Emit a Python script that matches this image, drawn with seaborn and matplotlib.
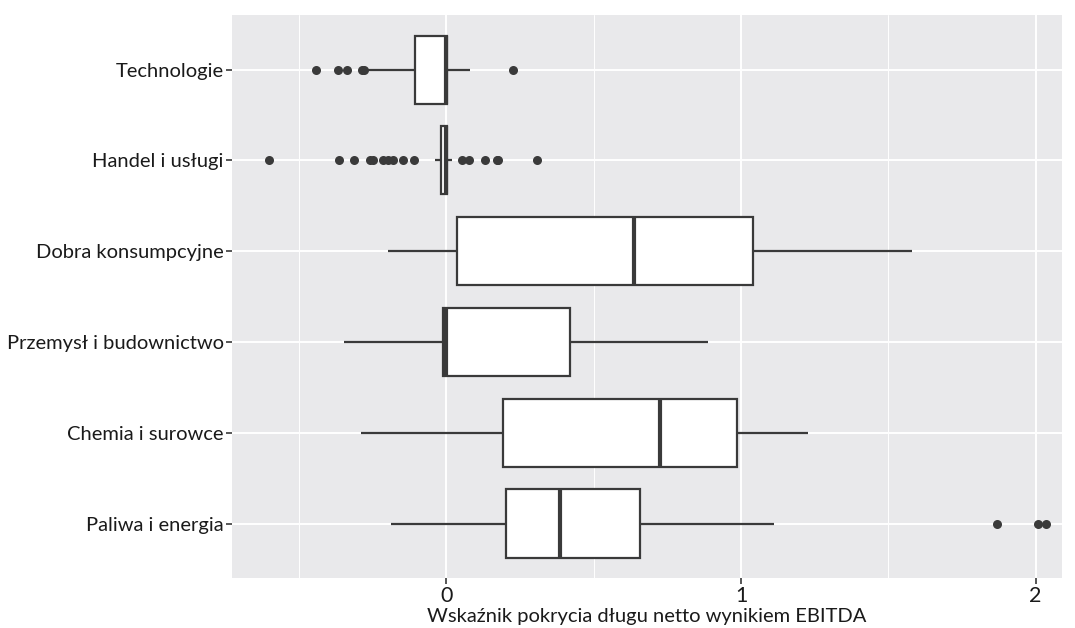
import numpy as np
import pandas as pd
import matplotlib.pyplot as plt
import seaborn as sns

# sectors, top to bottom
sectors = ['Technologie', 'Handel i usługi', 'Dobra konsumpcyjne',
           'Przemysł i budownictwo', 'Chemia i surowce', 'Paliwa i energia']

# box summaries
whisker_lo = [-0.266, -0.039, -0.198, -0.347, -0.290, -0.188]
q1 = [-0.107, -0.019, 0.036, -0.013, 0.193, 0.202]
median = [0.000, 0.000, 0.636, 0.000, 0.725, 0.384]
q3 = [0.003, 0.003, 1.040, 0.420, 0.986, 0.658]
whisker_hi = [0.080, 0.020, 1.582, 0.887, 1.229, 1.113]

# outlying points per sector
outliers = {
    'Technologie': [-0.444, -0.367, -0.337, -0.287, -0.281, 0.225],
    'Handel i usługi': [-0.603, -0.365, -0.313, -0.260, -0.249, -0.215,
                        -0.198, -0.181, -0.147, -0.109,
                        0.054, 0.077, 0.131, 0.170, 0.176, 0.307],
    'Dobra konsumpcyjne': [],
    'Przemysł i budownictwo': [],
    'Chemia i surowce': [],
    'Paliwa i energia': [1.868, 2.007, 2.036],
}

xlabel = 'Wskaźnik pokrycia długu netto wynikiem EBITDA'

# five summary values per sector -> exact quartiles in the boxplot
rows = []
for i, s in enumerate(sectors):
    for v in [whisker_lo[i], q1[i], median[i], q3[i], whisker_hi[i]]:
        rows.append({'sector': s, 'value': v})
box_df = pd.DataFrame(rows)

out_df = pd.DataFrame([{'sector': s, 'value': v}
                       for s in sectors for v in outliers[s]])

sns.set_theme(style='darkgrid', rc={
    'axes.facecolor': '#E9E9EB',
    'grid.color': 'white',
    'axes.edgecolor': '#E9E9EB',
})
plt.rcParams['font.family'] = ['Lato', 'DejaVu Sans']

fig = plt.figure(figsize=(10.75, 6.28), dpi=100)
ax = fig.add_axes([0.2158, 0.0796, 0.988 - 0.2158, 0.976 - 0.0796])

line_c = '#3a3a3a'
sns.boxplot(data=box_df, x='value', y='sector', order=sectors, orient='h',
            whis=100, width=0.75, color='white', ax=ax, showfliers=False,
            boxprops=dict(facecolor='white', edgecolor=line_c, linewidth=1.6),
            whiskerprops=dict(color=line_c, linewidth=1.6),
            capprops=dict(linewidth=0),
            medianprops=dict(color=line_c, linewidth=3.0),
            zorder=3)
sns.stripplot(data=out_df, x='value', y='sector', order=sectors, orient='h',
              jitter=False, color=line_c, size=6.5, linewidth=0, ax=ax, zorder=4)

ax.set_xlim(-0.728, 2.09)
ax.set_ylim(5.6, -0.6)
ax.set_xticks([0, 1, 2])
ax.set_xticklabels(['0', '1', '2'])
ax.set_xticks([-0.5, 0.5, 1.5], minor=True)
ax.grid(True, which='major', color='white', linewidth=1.4)
ax.grid(True, which='minor', axis='x', color='white', linewidth=0.7)
ax.grid(False, which='minor', axis='y')
ax.tick_params(axis='both', which='major', length=4, width=1.2,
               color=line_c, labelsize=14.5, labelcolor='#1a1a1a', pad=2,
               bottom=True, left=True)
ax.tick_params(axis='x', which='major', labelsize=15.5)
ax.tick_params(axis='both', which='minor', length=0)
ax.set_xlabel(xlabel, fontsize=14.5, color='#1a1a1a', labelpad=1)
ax.set_ylabel('')
for sp in ax.spines.values():
    sp.set_visible(False)

fig.savefig('out.png', dpi=100)
